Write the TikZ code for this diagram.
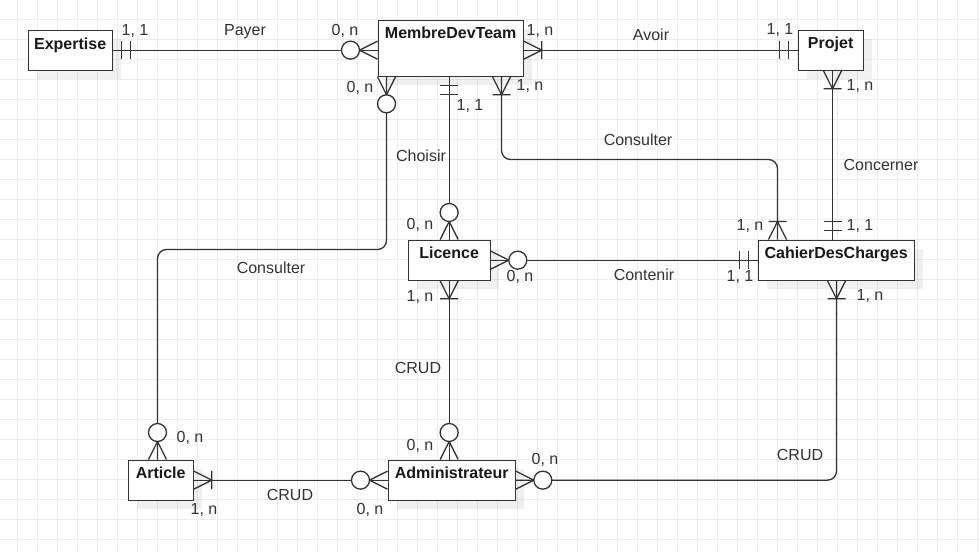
\documentclass[tikz,border=0pt]{standalone}
\usepackage{fontspec}
\setmainfont{Liberation Sans}
\usetikzlibrary{calc,shadows}

\tikzset{
  ent/.style={draw=black!80, line width=1.3pt, fill=white, rectangle, inner sep=0pt, anchor=north west,
    drop shadow={shadow xshift=9pt, shadow yshift=-9pt, fill=black, opacity=0.06}},
  ttl/.style={font=\fontsize{16}{19}\selectfont\bfseries, text=black!90, anchor=base, inner sep=0pt},
  lbl/.style={font=\fontsize{16}{19}\selectfont, text=black!80, anchor=base, inner sep=0pt},
  conn/.style={draw=black!80, line width=1.3pt, rounded corners=9pt},
  deco/.style={draw=black!80, line width=1.3pt},
  gridln/.style={draw=black!7, line width=0.9pt},
}

\newcommand{\erMandOne}[2]{\begin{scope}[shift={(#1)},rotate=#2]
  \draw[deco] (9,-9) -- (9,9) (18,-9) -- (18,9);\end{scope}}
\newcommand{\erOneMany}[2]{\begin{scope}[shift={(#1)},rotate=#2]
  \draw[deco] (0,-9) -- (18,0) -- (0,9) (18,-9) -- (18,9);\end{scope}}
\newcommand{\erZeroMany}[2]{\begin{scope}[shift={(#1)},rotate=#2]
  \draw[deco] (0,-9) -- (18,0) -- (0,9);
  \draw[deco, fill=white] (27,0) circle [radius=9pt];\end{scope}}

\begin{document}
\begin{tikzpicture}[x=1pt,y=-1pt]
\useasboundingbox (0,0) rectangle (980,552);
\fill[white] (0,0) rectangle (980,552);
\foreach \gx in {17,37,...,977} \draw[gridln] (\gx,0) -- (\gx,552);
\foreach \gy in {19,39,...,539} \draw[gridln] (0,\gy) -- (980,\gy);

\begin{scope}[shift={(0.5,0.5)}]
% entities
\node[ent, minimum width=84pt, minimum height=40pt] (exp) at (27,29) {};
\node[ent, minimum width=145pt, minimum height=56pt] (mdt) at (377,19) {};
\node[ent, minimum width=65pt, minimum height=40pt] (proj) at (797,29) {};
\node[ent, minimum width=82pt, minimum height=40pt] (lic) at (407,239) {};
\node[ent, minimum width=156pt, minimum height=40pt] (cdc) at (757,239) {};
\node[ent, minimum width=65pt, minimum height=40pt] (art) at (127,459) {};
\node[ent, minimum width=127pt, minimum height=40pt] (adm) at (387,459) {};

\node[ttl] (expT) at ([yshift=-20pt]exp.north) {Expertise};
\node[ttl] (mdtT) at ([yshift=-19pt]mdt.north) {MembreDevTeam};
\node[ttl] (projT) at ([yshift=-19pt]proj.north) {Projet};
\node[ttl] (licT) at ([yshift=-18.5pt]lic.north) {Licence};
\node[ttl] (cdcT) at ([yshift=-19pt]cdc.north) {CahierDesCharges};
\node[ttl] (artT) at ([yshift=-19pt]art.north) {Article};
\node[ttl] (admT) at ([yshift=-19pt]adm.north) {Administrateur};

% ports
\coordinate (pA) at ([xshift=9pt]mdt.south west);
\coordinate (pB) at ([xshift=124pt]mdt.south west);
\coordinate (pC) at (lic.north |- mdt.south);
\coordinate (cdcTop1) at ([xshift=20pt]cdc.north west);
\coordinate (projB) at ([xshift=35pt]proj.south west);
\coordinate (cdcTop2) at (projB |- cdc.north);
\coordinate (cdcBot) at ([xshift=79pt]cdc.south west);
\coordinate (artTop) at ([xshift=30pt]art.north west);
\coordinate (kA) at (0,249);
\coordinate (kB) at (0,159);
\coordinate (mdtL) at (exp.east -| mdt.west);
\coordinate (mdtR) at (proj.west -| mdt.east);
\coordinate (admTop) at (lic.south |- adm.north);

% connectors
\draw[conn] (exp.east) -- (mdtL);
\draw[conn] (mdtR) -- (proj.west);
\draw[conn] (pA) |- (kA -| artTop) -- (artTop);
\draw[conn] (pC) -- (lic.north);
\draw[conn] (pB) |- (kB -| cdcTop1) -- (cdcTop1);
\draw[conn] (projB) -- (cdcTop2);
\draw[conn] (lic.east) -- (cdc.west);
\draw[conn] (lic.south) -- (admTop);
\draw[conn] (art.east) -- (adm.west);
\draw[conn] (adm.east) -| (cdcBot);

% ends
\erMandOne{exp.east}{0}
\erZeroMany{mdtL}{180}
\erOneMany{mdtR}{0}
\erMandOne{proj.west}{180}
\erZeroMany{pA}{-90}
\erZeroMany{artTop}{90}
\erMandOne{pC}{-90}
\erZeroMany{lic.north}{90}
\erOneMany{pB}{-90}
\erOneMany{cdcTop1}{90}
\erOneMany{projB}{-90}
\erMandOne{cdcTop2}{90}
\erZeroMany{lic.east}{0}
\erMandOne{cdc.west}{180}
\erOneMany{lic.south}{-90}
\erZeroMany{admTop}{90}
\erOneMany{art.east}{0}
\erZeroMany{adm.west}{180}
\erZeroMany{adm.east}{0}
\erOneMany{cdcBot}{-90}
\end{scope}

% labels
\node[lbl] (l1) at (135,35) {1, 1};
\node[lbl] (l2) at (245,35) {Payer};
\node[lbl] (l3) at (345,35) {0, n};
\node[lbl] (l4) at (360,92) {0, n};
\node[lbl] (l5) at (540,35) {1, n};
\node[lbl] (l6) at (470,110) {1, 1};
\node[lbl] (l7) at (530,90) {1, n};
\node[lbl] (l8) at (651,40) {Avoir};
\node[lbl] (l9) at (780,34) {1, 1};
\node[lbl] (l10) at (860,90) {1, n};
\node[lbl] (l11) at (638,145) {Consulter};
\node[lbl] (l12) at (421,161) {Choisir};
\node[lbl] (l13) at (881,170) {Concerner};
\node[lbl] (l14) at (420,229) {0, n};
\node[lbl] (l15) at (520,281) {0, n};
\node[lbl] (l16) at (420,301) {1, n};
\node[lbl] (l17) at (750,230) {1, n};
\node[lbl] (l18) at (860,230) {1, 1};
\node[lbl] (l19) at (740,281) {1, 1};
\node[lbl] (l20) at (870,300) {1, n};
\node[lbl] (l21) at (644,280) {Contenir};
\node[lbl] (l22) at (271,273) {Consulter};
\node[lbl] (l23) at (418,373) {CRUD};
\node[lbl] (l24) at (190,442) {0, n};
\node[lbl] (l25) at (204,514) {1, n};
\node[lbl] (l26) at (290,500) {CRUD};
\node[lbl] (l27) at (370,514) {0, n};
\node[lbl] (l28) at (420,450) {0, n};
\node[lbl] (l29) at (545,464) {0, n};
\node[lbl] (l30) at (800,460) {CRUD};
\end{tikzpicture}
\end{document}
